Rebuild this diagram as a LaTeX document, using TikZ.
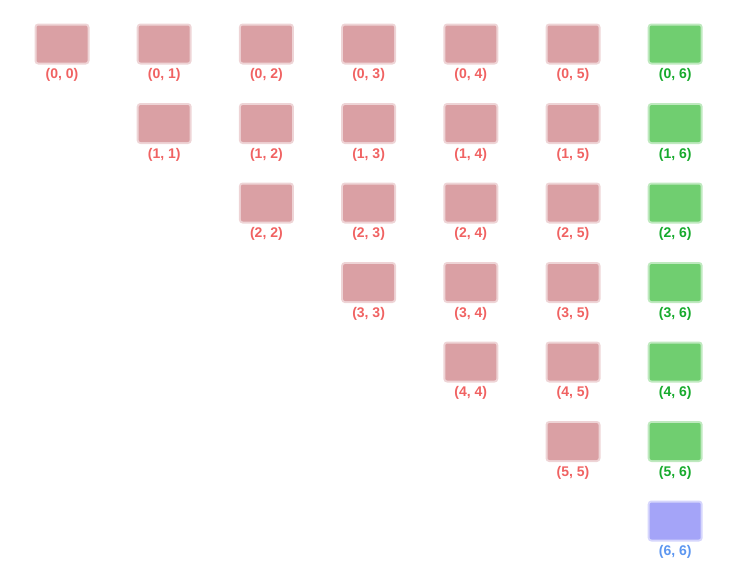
\documentclass[tikz,border=0pt]{standalone}
\usepackage{fontspec}
\setmainfont{Liberation Sans}
\usetikzlibrary{positioning}
\definecolor{CellRed}{RGB}{218,160,164}
\definecolor{TextRed}{RGB}{240,98,98}
\definecolor{CellGreen}{RGB}{112,206,112}
\definecolor{TextGreen}{RGB}{22,170,44}
\definecolor{CellBlue}{RGB}{164,164,248}
\definecolor{TextBlue}{RGB}{92,150,240}
\newcommand{\gridcell}[4]{%
  \node[cellbox,fill=#3,draw=#3] (c-#1-#2) at (62+102.2*#2,44+79.5*#1) {};
  \node[celllabel,#4] (l-#1-#2) at ([yshift=-31pt]c-#1-#2.center) {(#1, #2)};}

\begin{document}
\begin{tikzpicture}[x=1pt,y=-1pt,
    cellbox/.style={rectangle,minimum width=51pt,minimum height=37pt,
      line width=4pt,draw opacity=0.45,rounded corners=2pt,inner sep=0pt},
    celllabel/.style={font=\fontsize{14}{16}\selectfont\bfseries,inner sep=0pt}]
  \useasboundingbox (0,0) rectangle (734,571);
  % upper triangle
  \foreach \c in {0,...,5}
    \foreach \r in {0,...,\c}
      \gridcell{\r}{\c}{CellRed}{TextRed};
  % last column
  \foreach \r in {0,...,5}
    \gridcell{\r}{6}{CellGreen}{TextGreen};
  \gridcell{6}{6}{CellBlue}{TextBlue}
\end{tikzpicture}
\end{document}
